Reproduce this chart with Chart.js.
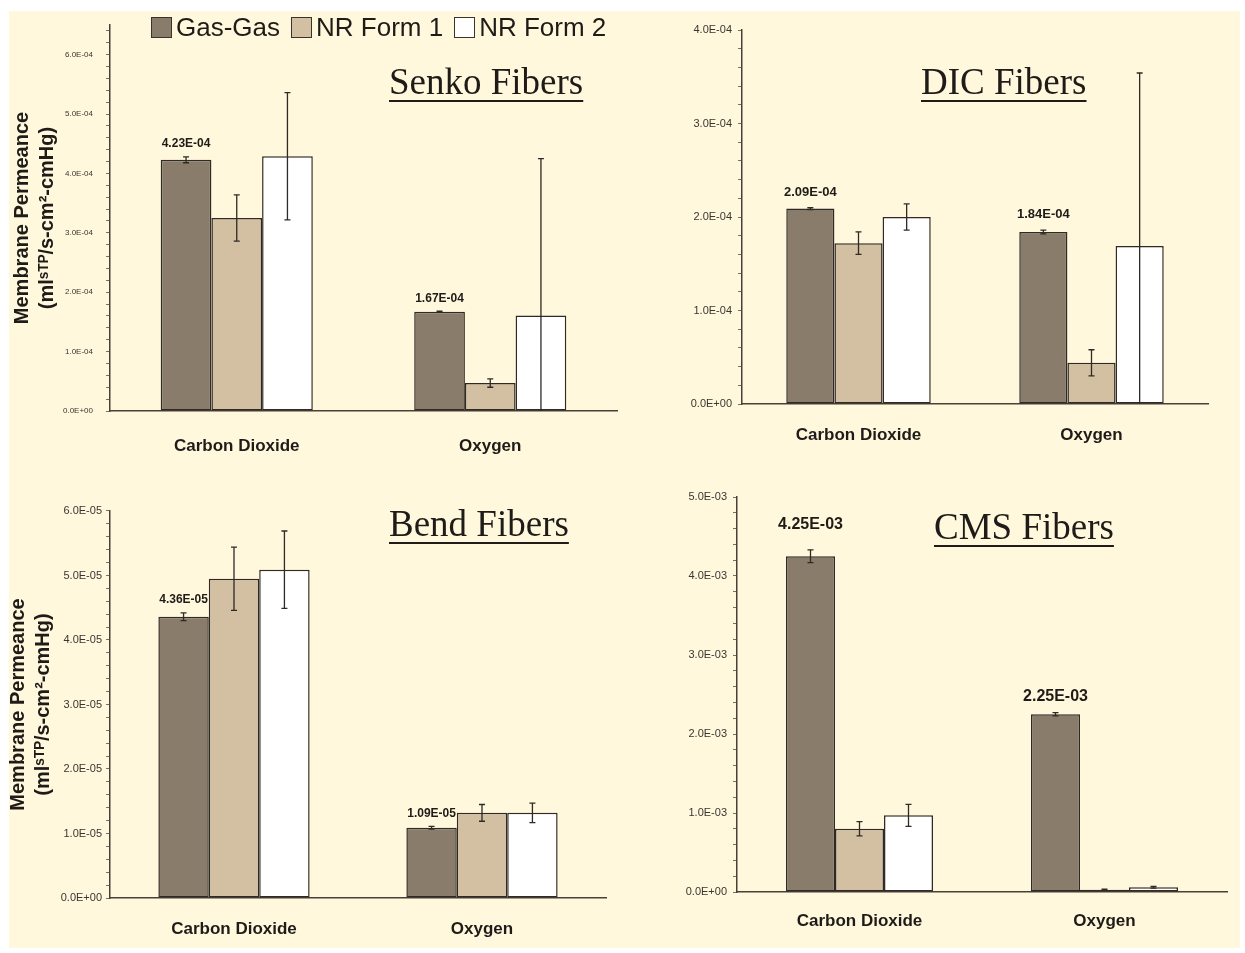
<!DOCTYPE html>
<html>
<head>
<meta charset="utf-8">
<script src="https://cdn.jsdelivr.net/npm/chart.js@4.4.1/dist/chart.umd.min.js"></script>
<style>
    html, body { margin: 0; padding: 0; background: #ffffff; }
    #sheet { position: absolute; left: 9px; top: 11px; width: 1231px; height: 937px; background: #fff8dc; }
    canvas { position: absolute; }
    .title {
        position: absolute; font-family: 'Liberation Serif', 'Times New Roman', serif; font-size: 37px;
        line-height: 1; color: #1e1b18; white-space: nowrap;
        text-decoration: underline; text-decoration-thickness: 2px; text-underline-offset: 6px;
    }
    #legend {
        position: absolute; left: 151px; top: 13px; display: flex; align-items: center;
        font-family: 'Liberation Sans', Arial, sans-serif; font-size: 26px; color: #1e1b18; line-height: 28px;
    }
    #legend .item { display: flex; align-items: center; margin-right: 11px; }
    #legend .box { width: 19px; height: 19px; border: 1.5px solid #3a332c; margin-right: 4px; }
</style>
</head>
<body>
<div id="sheet"></div>
<canvas id="senko" width="625" height="470" style="left:0px;top:0px"></canvas>
<canvas id="dic" width="620" height="470" style="left:625px;top:0px"></canvas>
<canvas id="bend" width="625" height="483" style="left:0px;top:470px"></canvas>
<canvas id="cms" width="620" height="483" style="left:625px;top:470px"></canvas>
<div class="title" style="left:389px;top:63px">Senko Fibers</div>
<div class="title" style="left:921px;top:63px">DIC Fibers</div>
<div class="title" style="left:389px;top:505px">Bend Fibers</div>
<div class="title" style="left:934px;top:508px">CMS Fibers</div>
<div id="legend"></div>
<script>
// categories and series
var categories = ['Carbon Dioxide', 'Oxygen'];
var seriesNames = ['Gas-Gas', 'NR Form 1', 'NR Form 2'];
var seriesFill = ['#8a7c6b', '#d3bfa2', '#ffffff'];
var edgeColor = '#2f2a25';

// values, rows = Gas-Gas, NR Form 1, NR Form 2
var senkoValues = [[4.23e-4, 1.67e-4], [3.25e-4, 0.47e-4], [4.29e-4, 1.61e-4]];
var senkoErrors = [[0.05e-4, 0.01e-4], [0.39e-4, 0.07e-4], [1.07e-4, 2.64e-4]];
var dicValues = [[2.09e-4, 1.84e-4], [1.72e-4, 0.44e-4], [2.00e-4, 1.69e-4]];
var dicErrors = [[0.01e-4, 0.02e-4], [0.12e-4, 0.14e-4], [0.14e-4, 1.85e-4]];
var bendValues = [[4.36e-5, 1.09e-5], [4.95e-5, 1.32e-5], [5.09e-5, 1.32e-5]];
var bendErrors = [[0.06e-5, 0.02e-5], [0.49e-5, 0.13e-5], [0.60e-5, 0.15e-5]];
var cmsValues = [[4.25e-3, 2.25e-3], [0.80e-3, 0.03e-3], [0.97e-3, 0.06e-3]];
var cmsErrors = [[0.08e-3, 0.02e-3], [0.09e-3, 0.005e-3], [0.14e-3, 0.01e-3]];

// major y ticks and axis tops
var senkoTicks = [0, 1e-4, 2e-4, 3e-4, 4e-4, 5e-4, 6e-4];
var dicTicks = [0, 1e-4, 2e-4, 3e-4, 4e-4];
var bendTicks = [0, 1e-5, 2e-5, 3e-5, 4e-5, 5e-5, 6e-5];
var cmsTicks = [0, 1e-3, 2e-3, 3e-3, 4e-3, 5e-3];
var senkoMax = 6.5e-4, dicMax = 4e-4, bendMax = 6e-5, cmsMax = 5e-3;

var yTitle = ['Membrane Permeance', '(ml\u02E2\u1D40\u1D3E/s-cm\u00B2-cmHg)'];

function sci(v, d) {
    var parts = v.toExponential(d).split('e');
    var n = parseInt(parts[1], 10);
    return parts[0] + 'E' + (n < 0 ? '-' : '+') + String(Math.abs(n)).padStart(2, '0');
}

// error bars + value labels over the Gas-Gas bars
var errorBars = {
    id: 'errorBars',
    afterDatasetsDraw: function(chart, args, opts) {
        var ctx = chart.ctx;
        var y = chart.scales.y;
        ctx.save();
        ctx.strokeStyle = edgeColor;
        ctx.lineWidth = 1.3;
        chart.data.datasets.forEach(function(ds, i) {
            chart.getDatasetMeta(i).data.forEach(function(bar, j) {
                var v = ds.data[j], e = ds.errors[j];
                var hi = y.getPixelForValue(v + e);
                var lo = y.getPixelForValue(Math.max(0, v - e));
                ctx.beginPath();
                ctx.moveTo(bar.x, hi); ctx.lineTo(bar.x, lo);
                ctx.moveTo(bar.x - 3, hi); ctx.lineTo(bar.x + 3, hi);
                if (v - e > 0) { ctx.moveTo(bar.x - 3, lo); ctx.lineTo(bar.x + 3, lo); }
                ctx.stroke();
            });
        });
        var first = chart.data.datasets[0];
        ctx.fillStyle = '#1e1b18';
        ctx.font = 'bold ' + opts.labelSize + 'px "Liberation Sans", Arial, sans-serif';
        ctx.textAlign = 'center';
        ctx.textBaseline = 'bottom';
        chart.getDatasetMeta(0).data.forEach(function(bar, j) {
            var top = y.getPixelForValue(first.data[j] + first.errors[j]);
            var gap = j === 0 ? opts.gapFirst : opts.gap;
            ctx.fillText(sci(first.data[j], 2), bar.x, top - gap);
        });
        ctx.restore();
    }
};

function makePanel(id, p) {
    var major = p.ticks[1] - p.ticks[0];
    var minor = major / 5;
    new Chart(document.getElementById(id), {
        type: 'bar',
        data: {
            labels: categories,
            datasets: seriesNames.map(function(name, i) {
                return {
                    label: name,
                    data: p.values[i],
                    errors: p.errors[i],
                    backgroundColor: seriesFill[i],
                    borderColor: edgeColor,
                    borderWidth: 1.5,
                    borderSkipped: false,
                    categoryPercentage: p.catPct,
                    barPercentage: 1.0
                };
            })
        },
        options: {
            responsive: false,
            animation: false,
            layout: { padding: { left: 0, top: p.top, right: p.right, bottom: 0 } },
            plugins: {
                legend: { display: false },
                tooltip: { enabled: false },
                errorBars: { labelSize: p.labelSize, gap: p.gap, gapFirst: p.gapFirst || p.gap }
            },
            scales: {
                x: {
                    grid: { display: false },
                    border: { display: true, color: '#4a4038', width: 1.5 },
                    ticks: {
                        color: '#1e1b18', padding: p.xPad,
                        font: { family: 'Liberation Sans', weight: 'bold', size: 17 }
                    },
                    afterFit: function(s) { s.height = p.xHeight; }
                },
                y: {
                    min: 0,
                    max: p.max,
                    grid: { display: true, drawOnChartArea: false, drawTicks: true, tickLength: 4, color: '#7a6e62' },
                    border: { display: true, color: '#4a4038', width: 1.5 },
                    ticks: {
                        autoSkip: false,
                        includeBounds: false,
                        color: '#3a3530',
                        padding: p.yPad,
                        font: { family: 'Liberation Sans', size: p.yFont },
                        callback: function(v) {
                            var isMajor = p.ticks.some(function(m) { return Math.abs(m - v) < minor * 1e-3; });
                            return isMajor ? sci(v, 1) : '';
                        }
                    },
                    afterBuildTicks: function(s) {
                        var list = [];
                        for (var i = 0; i * minor <= p.max + minor * 1e-3; i++) list.push({ value: i * minor });
                        s.ticks = list;
                    },
                    title: {
                        display: p.showTitle,
                        text: yTitle,
                        color: '#1e1b18',
                        padding: { top: p.titlePad, bottom: 0 },
                        font: { family: 'Liberation Sans', weight: 'bold', size: 20, lineHeight: '25px' }
                    },
                    afterFit: function(s) { s.width = p.yWidth; }
                }
            }
        },
        plugins: [errorBars]
    });
}

makePanel('senko', { values: senkoValues, errors: senkoErrors, ticks: senkoTicks, max: senkoMax,
    top: 25, right: 8, xHeight: 59, yWidth: 110, xPad: 17, yPad: 13, yFont: 8, catPct: 0.6,
    labelSize: 12, gap: 7, showTitle: true, titlePad: 9.5 });
makePanel('dic', { values: dicValues, errors: dicErrors, ticks: dicTicks, max: dicMax,
    top: 30, right: 37, xHeight: 66, yWidth: 117, xPad: 13, yPad: 6, yFont: 11, catPct: 0.62,
    labelSize: 13, gap: 9, showTitle: false, titlePad: 0 });
makePanel('bend', { values: bendValues, errors: bendErrors, ticks: bendTicks, max: bendMax,
    top: 41, right: 19, xHeight: 55, yWidth: 110, xPad: 13, yPad: 4, yFont: 11, catPct: 0.61,
    labelSize: 12, gap: 7, showTitle: true, titlePad: 5.5 });
makePanel('cms', { values: cmsValues, errors: cmsErrors, ticks: cmsTicks, max: cmsMax,
    top: 27, right: 18, xHeight: 61, yWidth: 112, xPad: 11, yPad: 6, yFont: 11, catPct: 0.6,
    labelSize: 16, gap: 8, gapFirst: 17, showTitle: false, titlePad: 0 });

// shared legend at the top
var legend = document.getElementById('legend');
seriesNames.forEach(function(name, i) {
    var item = document.createElement('div');
    item.className = 'item';
    var box = document.createElement('span');
    box.className = 'box';
    box.style.background = seriesFill[i];
    var txt = document.createElement('span');
    txt.textContent = name;
    item.appendChild(box);
    item.appendChild(txt);
    legend.appendChild(item);
});
</script>
</body>
</html>
